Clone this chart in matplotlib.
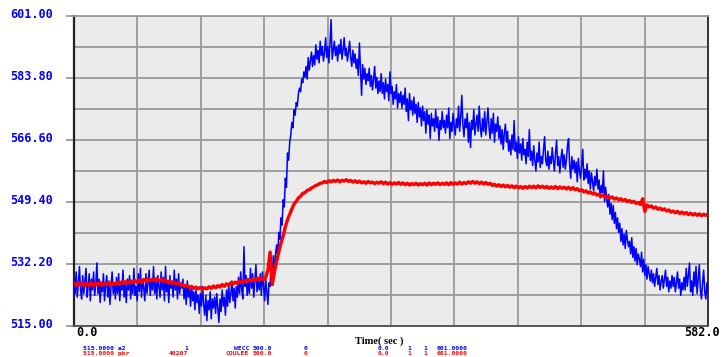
import numpy as np
import matplotlib
matplotlib.use("Agg")
import matplotlib.pyplot as plt
from matplotlib.ticker import FixedLocator

# ---- data -------------------------------------------------------------
t_end = 582.0

y_ticks = [515.00, 532.20, 549.40, 566.60, 583.80, 601.00]
y_tick_labels = ["515.00", "532.20", "549.40", "566.60", "583.80", "601.00"]
x_tick_labels = ["0.0", "582.0"]

# WECC a2 (blue), one sample per second
wecc_a2 = [
    528, 524, 530, 523, 527, 531.5, 525, 522.5, 529, 524,
    527.5, 531, 523, 526, 529.5, 522, 528, 525, 530, 523.5,
    526.5, 532.5, 524, 528, 521.5, 527, 524.5, 529.5, 522, 526,
    529, 523, 527.5, 521, 526, 530, 524, 527, 522.5, 528.5,
    524, 529.5, 522, 527, 525, 530.5, 523, 526.5, 521.5, 528,
    525, 529, 522.5, 527.5, 524, 531, 523.5, 526, 522, 529.5,
    524.5, 531, 523, 528, 525.5, 522, 529.5, 524, 527, 530.5,
    523.5, 528, 525, 531.5, 524, 527.5, 522.5, 529, 526, 523,
    530, 525, 528.5, 522, 531.5, 524.5, 527, 521.5, 529, 525.5,
    527.5, 523, 530.5, 525, 528, 522.5, 529.5, 524, 527, 525.5,
    528, 522.5, 526.5, 521, 527.5, 523, 525.5, 520.5, 526, 522,
    524.5, 519.5, 525, 521.5, 523.5, 518.5, 524, 520.5, 526, 521,
    518, 523.5, 516.5, 522, 519.5, 524.5, 517, 522.5, 520, 523,
    518.5, 524, 520, 516, 522.5, 519, 525, 520.5, 523, 518,
    525, 520.5, 526.5, 521.5, 524, 527.5, 522, 525.5, 520, 526,
    523, 528.5, 524, 530, 525, 522.5, 537, 526, 529, 523.5,
    528, 524, 531, 525.5, 529.5, 523, 527.5, 532, 524.5, 528.5,
    525, 529.5, 523.5, 530, 526, 522, 528, 524.5, 521, 527,
    526, 533, 529, 534.5, 530, 535, 537.5, 534, 541, 539,
    545, 543, 550, 548, 556, 553.5, 563, 561, 566, 568,
    571.5, 570, 575, 573.5, 577, 576, 579.5, 581, 580, 583.5,
    582.5, 585.5, 584, 587, 583.5, 589.5, 586, 588.5, 591, 587,
    590, 587.5, 593, 589, 591.5, 588, 594, 590, 592.5, 588.5,
    591, 595, 589.5, 592.5, 588, 593.5, 600, 589, 591.5, 594,
    590, 592.5, 588.5, 593, 590.5, 594.5, 589, 591.5, 595, 590,
    592, 588.5, 591, 594, 589.5, 587, 591.5, 588, 590.5, 586.5,
    589, 584.5, 593.5, 586, 579, 587.5, 583.5, 586.5, 582, 585,
    583, 586.5, 581.5, 584.5, 580.5, 583.5, 587, 581, 584, 579.5,
    583, 580, 585, 579.5, 582.5, 578, 583.5, 580, 582, 577.5,
    585.5, 579.5, 581.5, 576.5, 580, 578, 582, 575.5, 579.5, 577,
    580, 575.5, 579, 576.5, 581, 574.5, 578, 572, 579.5, 575,
    577.5, 573.5, 578.5, 574, 576.5, 571.5, 577, 573, 575.5, 570.5,
    576, 572, 574.5, 568.5, 575, 571, 573.5, 567, 574, 570.5,
    572.5, 569, 575, 570, 573, 566.5, 572, 569.5, 574.5, 570,
    572, 568.5, 573.5, 570, 575.5, 567, 571.5, 569, 574, 570.5,
    568, 572.5, 570, 576, 569, 573, 579, 571, 567.5, 572.5,
    570, 574, 566, 571.5, 564.5, 572, 569.5, 575, 568, 571,
    573.5, 569, 576, 570, 567.5, 572.5, 569, 574.5, 568, 571.5,
    575.5, 570, 567, 572.5, 568.5, 574, 566, 571, 569, 573,
    567, 570.5, 565.5, 569.5, 564, 568.5, 571, 566, 569, 563.5,
    566.5, 562.5, 568, 564, 572, 563.5, 566, 561.5, 567.5, 563,
    565.5, 561, 567, 562.5, 564, 560, 566, 562, 569.5, 561,
    563.5, 559.5, 565, 561, 558, 563, 560.5, 566, 559, 562,
    560, 564, 567.5, 561, 559.5, 563.5, 558.5, 562, 560, 564.5,
    561, 558, 563, 566.5, 559.5, 562, 557.5, 561.5, 564, 559,
    562.5, 558.5, 561, 565, 567, 559.5, 556, 562, 558.5, 561,
    557.5, 560.5, 555, 561.5, 558, 556, 559.5, 564, 555.5, 558.5,
    556, 560, 554.5, 558, 553, 557.5, 555, 552.5, 556.5, 554,
    558.5, 553, 555.5, 550.5, 554, 552, 558, 549.5, 553.5, 550,
    548, 551.5, 546, 549, 544.5, 548.5, 543.5, 546.5, 542, 545,
    541, 543.5, 538.5, 542, 537.5, 540.5, 536.5, 541.5, 539, 537,
    538.5, 535, 539.5, 534, 537, 533, 536.5, 532, 535, 533.5,
    531.5, 535.5, 530, 533.5, 529, 532, 528, 531.5, 529.5, 527.5,
    530.5, 527, 529.5, 526, 528.5, 531, 526.5, 529, 525, 527.5,
    529, 525.5, 528, 530.5, 526, 528.5, 524.5, 527.5, 525.5, 529,
    526, 528.5, 524.5, 527, 530, 525.5, 528, 523.5, 527, 525,
    528.5, 525, 531, 526, 529, 532.5, 524.5, 527.5, 523.5, 530,
    526, 531.5, 524, 528, 532, 525, 522.5, 527, 530.5, 524.5,
    522.5, 527, 524,
]

# COULEE pkr (red), one sample every two seconds
coulee_pkr = [
    526.8, 526.2, 527.0, 526.4, 526.9, 526.1, 526.8, 526.3, 527.0, 526.2,
    526.9, 526.4, 527.1, 526.3, 526.8, 526.5, 527.1, 526.4, 526.9, 526.6,
    527.2, 526.6, 527.3, 526.8, 527.4, 526.9, 527.5, 527.0, 527.6, 527.1,
    527.8, 527.2, 527.9, 527.4, 528.1, 527.5, 528.0, 527.6, 528.2, 527.5,
    527.9, 527.4, 527.8, 527.1, 527.5, 526.8, 527.2, 526.6, 527.0, 526.3,
    526.5, 526.0, 526.3, 525.7, 526.0, 525.4, 525.8, 525.3, 525.7, 525.2,
    525.6, 525.3, 525.9, 525.4, 526.1, 525.6, 526.2, 525.8, 526.5, 526.0,
    526.7, 526.3, 527.0, 526.6, 527.2, 526.8, 527.5, 527.0, 527.7, 527.3,
    527.9, 527.4, 528.1, 527.6, 528.3, 527.8, 528.4, 527.9, 528.5, 530.5,
    535.5, 526.5, 530.0, 533.0, 535.5, 538.0, 540.0, 542.5, 544.5, 546.0,
    547.5, 548.8, 549.6, 550.5, 551.0, 551.8, 552.0, 552.6, 552.8, 553.3,
    553.6, 554.0, 554.2, 554.6, 554.7, 555.1, 554.8, 555.3, 555.0, 555.4,
    555.1, 555.5, 555.0, 555.4, 555.2, 555.6, 555.1, 555.4, 554.9, 555.3,
    554.8, 555.2, 554.7, 555.0, 554.6, 555.1, 554.7, 554.9, 554.5, 554.9,
    554.6, 555.0, 554.5, 554.9, 554.4, 554.8, 554.3, 554.7, 554.4, 554.8,
    554.3, 554.7, 554.2, 554.6, 554.1, 554.5, 554.2, 554.6, 554.1, 554.5,
    554.2, 554.6, 554.1, 554.7, 554.2, 554.6, 554.3, 554.7, 554.2, 554.6,
    554.3, 554.7, 554.2, 554.8, 554.3, 554.7, 554.4, 554.9, 554.4, 554.8,
    554.5, 555.0, 554.6, 555.1, 554.6, 555.0, 554.5, 554.9, 554.4, 554.8,
    554.3, 554.6, 554.0, 554.3, 553.8, 554.2, 553.7, 554.1, 553.6, 554.0,
    553.5, 553.9, 553.4, 553.8, 553.3, 553.7, 553.2, 553.7, 553.3, 553.8,
    553.4, 553.8, 553.3, 553.9, 553.4, 553.8, 553.3, 553.7, 553.2, 553.6,
    553.2, 553.7, 553.1, 553.6, 553.2, 553.5, 553.0, 553.5, 552.9, 553.4,
    552.8, 553.1, 552.5, 552.8, 552.2, 552.5, 551.9, 552.2, 551.6, 551.9,
    551.3, 551.6, 551.0, 551.3, 550.7, 551.0, 550.5, 550.8, 550.2, 550.5,
    550.0, 550.3, 549.8, 550.1, 549.5, 549.8, 549.3, 549.6, 549.0, 549.3,
    548.7, 550.3, 546.8, 548.6, 548.0, 548.3, 547.7, 548.0, 547.4, 547.7,
    547.2, 547.5, 546.9, 547.2, 546.6, 546.9, 546.4, 546.8, 546.2, 546.6,
    546.1, 546.5, 545.9, 546.3, 545.8, 546.2, 545.7, 546.1, 545.6, 546.0,
    545.7, 546.1,
]

blue_time = np.arange(len(wecc_a2)) * 1.0
red_time = np.arange(len(coulee_pkr)) * 2.0

# channel description rows printed under the plot
legend_blue = ["515.0000 a2", "1", "WECC", "500.0", "0", "0.0", "1", "1", "601.0000"]
legend_red = ["515.0000 pkr", "40207", "COULEE", "500.0", "0", "0.0", "1", "1", "601.0000"]

# ---- figure -----------------------------------------------------------
W, H = 722, 357
fig = plt.figure(figsize=(W / 100, H / 100), dpi=100)
fig.patch.set_facecolor("white")

L, R, T, B = 74, 708, 16, 326
ax = fig.add_axes([L / W, 1 - B / H, (R - L) / W, (B - T) / H])
ax.set_facecolor("#EBEBEB")

ax.plot(blue_time, wecc_a2, color="#0000FF", lw=1.1, zorder=3)
ax.plot(red_time, coulee_pkr, color="#FF0000", lw=2.4, zorder=4)

ax.set_xlim(0, t_end)
ax.set_ylim(y_ticks[0], y_ticks[-1])

grid_c = "#9a9a9a"
ax.yaxis.set_major_locator(FixedLocator(y_ticks))
half = [(a + b) / 2 for a, b in zip(y_ticks[:-1], y_ticks[1:])]
ax.yaxis.set_minor_locator(FixedLocator(half))
ax.xaxis.set_major_locator(FixedLocator(np.linspace(0, t_end, 11)))
ax.grid(True, which="both", color=grid_c, lw=1.3, zorder=1)
ax.set_axisbelow(True)

ax.tick_params(axis="y", which="major", length=6, width=1.3, color=grid_c,
               labelleft=False)
ax.tick_params(axis="y", which="minor", length=0)
ax.tick_params(axis="x", length=0, labelbottom=False)

ax.spines["left"].set_color("#222222")
ax.spines["left"].set_linewidth(1.6)
ax.spines["bottom"].set_color("#555555")
ax.spines["bottom"].set_linewidth(1.4)
ax.spines["top"].set_color(grid_c)
ax.spines["top"].set_linewidth(1.3)
ax.spines["right"].set_color("#333333")
ax.spines["right"].set_linewidth(1.4)

mono = "DejaVu Sans Mono"

def px(x, y):
    return x / W, 1 - y / H

# y tick labels
for v, lab in zip(y_ticks, y_tick_labels):
    yp = B - (v - y_ticks[0]) / (y_ticks[-1] - y_ticks[0]) * (B - T)
    fig.text(*px(53, yp - 1.5), lab, ha="right", va="center", color="#0000FF",
             fontsize=8.5, fontweight="bold", family=mono)

# x tick labels
fig.text(*px(76, 333), x_tick_labels[0], ha="left", va="center", color="black",
         fontsize=8.5, fontweight="bold", family=mono)
fig.text(*px(684, 333), x_tick_labels[1], ha="left", va="center", color="black",
         fontsize=8.5, fontweight="bold", family=mono)

# axis title
fig.text(*px(379, 341), "Time( sec )", ha="center", va="center", color="black",
         fontsize=7.5, fontweight="bold", family="Liberation Serif")

# channel rows
cols = [(83, "left"), (188, "right"), (249, "right"), (253, "left"),
        (304, "left"), (378, "left"), (407, "left"), (423, "left"), (437, "left")]
for row, color, yrow in ((legend_blue, "#0000FF", 348.5), (legend_red, "#FF0000", 353.5)):
    for (xc, ha), s in zip(cols, row):
        fig.text(*px(xc, yrow), s, ha=ha, va="center", color=color,
                 fontsize=4.6, fontweight="bold", family=mono)

fig.savefig("out.png", dpi=100, facecolor="white")
